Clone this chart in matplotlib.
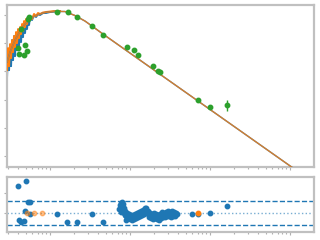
import matplotlib
matplotlib.use("Agg")
import matplotlib.pyplot as plt
import numpy as np

# spectre optique (deux reductions), longueur d'onde en micron
spec_wave = [0.290, 0.2985, 0.3073, 0.3162, 0.3255, 0.335, 0.3448, 0.3548, 0.3652, 0.3758,
             0.3868, 0.3981, 0.4097, 0.4217, 0.434, 0.4467, 0.4597, 0.4732, 0.487, 0.5012,
             0.5158, 0.5309, 0.5464, 0.5623, 0.5957, 0.631, 0.6683, 0.7079, 0.7499, 0.8175,
             0.8913, 1.0, 1.155, 1.334]
spec_blue = [0.0627, 0.57, 0.111, 0.859, 0.154, 1.29, 0.252, 1.79, 0.349, 2.29,
             0.57, 2.93, 0.791, 3.45, 1.098, 4.41, 1.65, 5.64, 2.29, 6.64,
             3.18, 7.82, 4.41, 8.49, 6.64, 10.0, 8.49, 10.9, 10.0, 11.8,
             11.8, 12.8, 13.3, 13.55]
spec_orange = [0.111, 0.672, 0.154, 0.932, 0.297, 1.29, 0.484, 1.79, 0.729, 2.49,
               1.01, 3.18, 1.52, 3.74, 2.11, 4.79, 2.7, 6.12, 3.74, 7.21,
               4.79, 8.49, 6.12, 9.21, 7.21, 10.9, 9.21, 11.8, 10.9, 12.3,
               12.8, 13.3, 13.87, 13.87]

# modele
model_wave = [0.29, 0.316, 0.365, 0.422, 0.487, 0.562, 0.649, 0.75, 0.866, 1.155,
              1.54, 2.05, 2.74, 3.35, 4.6, 2371]
model_flux = [0.214, 0.484, 1.29, 2.7, 4.79, 7.2, 9.2, 10.9, 12.3, 13.5,
              13.3, 9.6, 6.1, 4.06, 2.11, 8.0e-6]

# photometrie
phot_wave = [0.398, 0.41, 0.434, 0.473, 0.487, 0.516, 0.531, 0.546, 1.22, 1.68,
             2.18, 3.35, 4.6, 9.17, 11.2, 12.6, 19.4, 22.4, 23.7, 70.8, 100, 163]
phot_flux = [0.67, 0.41, 3.18, 0.38, 0.86, 0.526, 7.2, 8.5, 12.8, 12.8,
             8.5, 4.06, 1.95, 0.73, 0.57, 0.38, 0.154, 0.102, 0.094, 0.0095, 0.0054, 0.0063]
phot_err_lo = [0.1, 0.06, 0.4, 0.06, 0.1, 0.07, 0.8, 0.9, 1.2, 1.2,
               0.8, 0.4, 0.2, 0.08, 0.06, 0.04, 0.015, 0.01, 0.01, 0.001, 0.0006, 0.0023]
phot_err_hi = [0.1, 0.06, 0.4, 0.06, 0.1, 0.07, 0.8, 0.9, 1.2, 1.2,
               0.8, 0.4, 0.2, 0.08, 0.06, 0.04, 0.015, 0.01, 0.01, 0.001, 0.0006, 0.0037]

# residus (sigma)
res_wave = [0.402, 0.506, 0.535, 0.557, 0.487, 0.557, 0.413, 0.430, 0.473, 1.23,
            1.64, 2.19, 3.38, 4.64, 60.1, 71.4, 101, 164,
            7.39, 7.50, 7.61, 7.72, 7.83, 7.94, 8.06, 8.18, 8.30, 8.41,
            8.54, 8.66, 8.91, 8.91, 9.17, 9.44, 9.72, 10.0, 10.29, 10.59,
            10.9, 11.22, 11.55, 11.89, 12.23, 12.59, 12.96, 13.34, 13.73, 14.13,
            14.54, 14.96, 15.4, 15.85, 16.31, 16.79, 17.28, 17.78, 18.3, 18.84,
            19.39, 19.95, 20.54, 21.13, 21.75, 22.39, 23.24, 23.71, 24.4, 25.12,
            25.85, 26.61, 27.38, 28.18, 29.0, 29.85, 30.72, 31.62, 32.54, 33.5,
            34.47, 35.48, 36.52, 37.58, 38.68]
res_val = [6.7, 7.9, 2.6, 2.6, 0.6, -0.15, -1.65, -2.15, -1.9, -0.15,
           -2.15, -2.15, -0.3, -2.15, -0.15, -0.15, 0.0, 1.7,
           0.92, 1.92, 0.17, 2.42, 1.17, 2.75, 0.67, 2.17, -0.08, 1.17,
           -0.58, 0.42, -0.83, -1.65, -0.08, -1.32, -0.32, -1.58, -0.58, -1.7,
           -0.58, -1.58, -0.32, -1.32, -0.08, -1.08, 0.17, -0.83, 0.42, -0.58,
           0.67, -0.32, 1.17, 1.25, -0.08, 0.42, -1.08, -0.08, -1.32, -0.32,
           -1.58, -0.08, -1.32, -0.32, -1.58, -0.58, -1.82, -0.32, -1.32, 0.17,
           -1.08, -0.08, -1.08, 0.17, -0.83, 0.42, -0.83, 0.17, -1.08, 0.42,
           -0.83, 0.17, -0.83, -0.08, -0.32]
lim_wave = [0.52, 0.625, 0.79, 71.4]
lim_val = [0.0, 0.0, 0.0, 0.0]
lim_alpha = [0.5, 0.5, 0.5, 1.0]

grey = '#c0c0c0'

fig = plt.figure(figsize=(3.2, 2.4), dpi=100)
ax = fig.add_axes([0.022, 0.304, 0.959, 0.675])
axr = fig.add_axes([0.022, 0.033, 0.959, 0.229])

ax.plot(spec_wave, spec_blue, color='C0', lw=1.4, zorder=2)
ax.plot(spec_wave, spec_orange, color='C1', lw=1.4, zorder=3)
ax.plot(model_wave, model_flux, color='C0', lw=1, zorder=4)
ax.plot(model_wave, model_flux, color='C1', lw=1, alpha=0.8, zorder=5)
ax.errorbar(phot_wave, phot_flux, yerr=[phot_err_lo, phot_err_hi], fmt='o', color='C2',
            ms=3.2, elinewidth=1, capsize=0, zorder=6)
ax.set_xscale('log')
ax.set_yscale('log')
ax.set_xlim(0.29, 1995)
ax.set_ylim(4.07e-5, 22.6)
ax.set_yticks([1e-4, 1e-3, 1e-2, 1e-1, 1, 10])

axr.axhline(0, color='C0', ls=':', lw=1, alpha=0.6)
axr.axhline(3, color='C0', ls='--', lw=1)
axr.axhline(-3, color='C0', ls='--', lw=1)
axr.plot(res_wave, res_val, 'o', color='C0', ms=3.2, zorder=3)
for w, v, a in zip(lim_wave, lim_val, lim_alpha):
    axr.plot(w, v, 'o', color='C1', ms=3.2, alpha=a, zorder=4)
axr.set_xscale('log')
axr.set_xlim(0.29, 1995)
axr.set_ylim(-4.75, 8.9)
axr.set_yticks([0, 5])

for a in (ax, axr):
    for s in a.spines.values():
        s.set_color(grey)
        s.set_linewidth(1.6)
    a.tick_params(which='both', direction='out', color='#b0b0b0', length=2, width=0.8,
                  labelbottom=False, labelleft=False)
    a.tick_params(which='minor', length=1.5)
ax.yaxis.set_minor_locator(matplotlib.ticker.NullLocator())

fig.savefig('out.png', dpi=100)
